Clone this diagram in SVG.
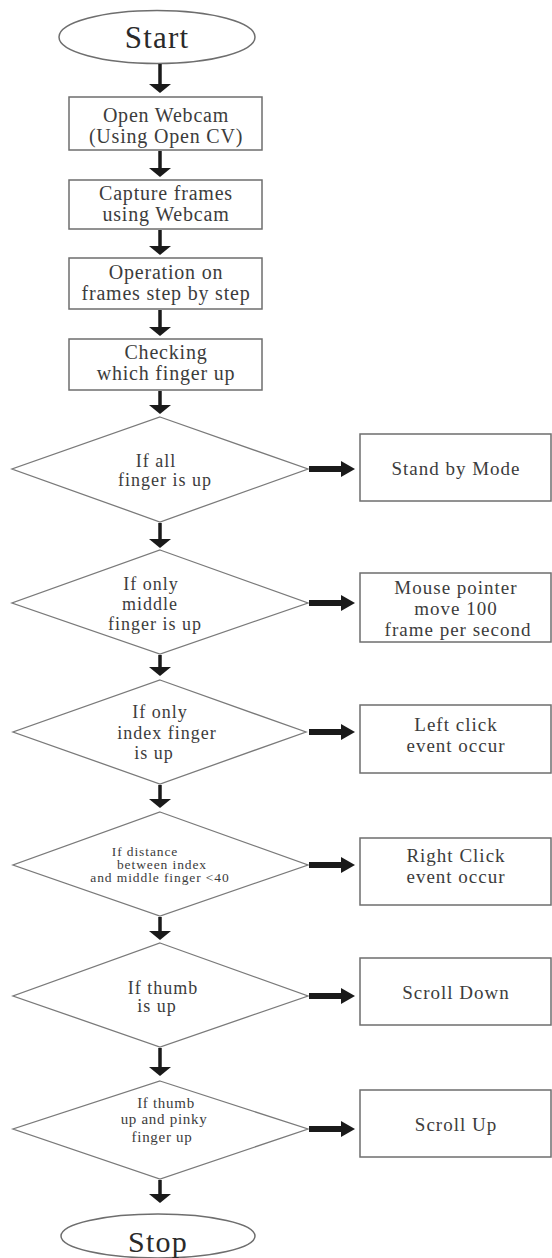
<svg xmlns="http://www.w3.org/2000/svg" width="552" height="1258" viewBox="0 0 552 1258">
<defs>
<style>
.shape{fill:#fff;stroke:#6e6e6e;stroke-width:1.5}
.dia{fill:#fff;stroke:#7a7a7a;stroke-width:1.3}
.t{font-family:"Liberation Serif","Times New Roman",serif;fill:#3c3c3c;text-anchor:middle}
.bx{font-size:20px;letter-spacing:0.8px}
.rb{font-size:19px;letter-spacing:1px}
.dt{font-size:18px;letter-spacing:1px}
.big{font-size:31px;letter-spacing:1.2px;fill:#2a2a2a}
.vs{stroke:#1a1a1a;stroke-width:3.5;fill:none}
.ah{fill:#1a1a1a}
</style>
</defs>
<g id="start"><ellipse class="shape" cx="157" cy="37" rx="98" ry="26.5"/><text class="t big" x="157" y="48">Start</text></g>
<g id="open-webcam"><rect class="shape" x="69" y="97" width="193" height="53"/><text class="t bx" x="166" y="122">Open Webcam</text><text class="t bx" x="166" y="143">(Using Open CV)</text></g>
<g id="capture"><rect class="shape" x="69" y="180" width="193" height="49"/><text class="t bx" x="166" y="200">Capture frames</text><text class="t bx" x="166" y="221">using Webcam</text></g>
<g id="operation"><rect class="shape" x="69" y="258" width="193" height="51"/><text class="t bx" x="166" y="279">Operation on</text><text class="t bx" x="166" y="300">frames step by step</text></g>
<g id="checking"><rect class="shape" x="69" y="339" width="193" height="51"/><text class="t bx" x="166" y="359">Checking</text><text class="t bx" x="166" y="380">which finger up</text></g>
<g id="d-all"><polygon class="dia" points="160,417 308,469 160,522 12,469"/><text class="t dt" x="156" y="467">If all</text><text class="t dt" x="165" y="486">finger is up</text></g>
<g id="standby"><rect class="shape" x="360" y="434" width="191" height="67"/><text class="t rb" x="456" y="475">Stand by Mode</text></g>
<g id="d-middle"><polygon class="dia" points="160,550 308,603 160,654 12,603"/><text class="t dt" x="151" y="590">If only</text><text class="t dt" x="150" y="610">middle</text><text class="t dt" x="155" y="630">finger is up</text></g>
<g id="mouse"><rect class="shape" x="360" y="573" width="191" height="69"/><text class="t rb" x="456" y="594">Mouse pointer</text><text class="t rb" x="456" y="615">move 100</text><text class="t rb" x="458" y="636">frame per second</text></g>
<g id="d-index"><polygon class="dia" points="160,680 306,732 160,784 13,732"/><text class="t dt" x="160" y="718">If only</text><text class="t dt" x="167" y="739">index finger</text><text class="t dt" x="154" y="759">is up</text></g>
<g id="leftclick"><rect class="shape" x="360" y="705" width="191" height="68"/><text class="t rb" x="456" y="731">Left click</text><text class="t rb" x="456" y="752">event occur</text></g>
<g id="d-distance"><polygon class="dia" points="160,812 308,865 160,916 13,865"/><text class="t" style="font-size:13.5px;letter-spacing:0.9px" x="145" y="856">If distance</text><text class="t" style="font-size:13.5px;letter-spacing:0.9px" x="162" y="869">between index</text><text class="t" style="font-size:13.5px;letter-spacing:0.9px" x="160" y="882">and middle finger &lt;40</text></g>
<g id="rightclick"><rect class="shape" x="360" y="838" width="191" height="67"/><text class="t rb" x="456" y="862">Right Click</text><text class="t rb" x="456" y="883">event occur</text></g>
<g id="d-thumb"><polygon class="dia" points="160,943 308,996 160,1047 13,996"/><text class="t dt" x="163" y="994">If thumb</text><text class="t dt" x="157" y="1012">is up</text></g>
<g id="scrolldown"><rect class="shape" x="360" y="958" width="191" height="67"/><text class="t rb" x="456" y="999">Scroll Down</text></g>
<g id="d-pinky"><polygon class="dia" points="160,1081 308,1129 160,1179 13,1129"/><text class="t" style="font-size:15px;letter-spacing:0.7px" x="166" y="1108">If thumb</text><text class="t" style="font-size:15px;letter-spacing:0.7px" x="164" y="1124">up and pinky</text><text class="t" style="font-size:15px;letter-spacing:0.7px" x="162" y="1142">finger up</text></g>
<g id="scrollup"><rect class="shape" x="360" y="1090" width="191" height="67"/><text class="t rb" x="456" y="1131">Scroll Up</text></g>
<g id="stop"><ellipse class="shape" cx="158" cy="1236" rx="97" ry="22"/><text class="t big" x="158" y="1252" style="font-size:30px">Stop</text></g>
<g id="connectors">
<path class="vs" d="M160 64V85"/><path class="ah" d="M149 84H171L160 93Z"/>
<path class="vs" d="M160 151V169"/><path class="ah" d="M149 168H171L160 177Z"/>
<path class="vs" d="M160 230V247"/><path class="ah" d="M149 246H171L160 255Z"/>
<path class="vs" d="M160 310V328"/><path class="ah" d="M149 327H171L160 336Z"/>
<path class="vs" d="M160 391V406"/><path class="ah" d="M149 405H171L160 414Z"/>
<path class="vs" d="M160 523V540"/><path class="ah" d="M149 539H171L160 548Z"/>
<path class="vs" d="M160 655V668"/><path class="ah" d="M149 667H171L160 676Z"/>
<path class="vs" d="M160 785V800"/><path class="ah" d="M149 799H171L160 808Z"/>
<path class="vs" d="M160 917V932"/><path class="ah" d="M149 931H171L160 940Z"/>
<path class="vs" d="M160 1048V1068"/><path class="ah" d="M149 1067H171L160 1076Z"/>
<path class="vs" d="M160 1180V1195"/><path class="ah" d="M149 1194H171L160 1203Z"/>
<path class="ah" d="M309 466H341V461L355 469L341 477V472H309Z"/>
<path class="ah" d="M309 600H341V595L355 603L341 611V606H309Z"/>
<path class="ah" d="M309 729H341V724L355 732L341 740V735H309Z"/>
<path class="ah" d="M309 862H341V857L355 865L341 873V868H309Z"/>
<path class="ah" d="M309 993H341V988L355 996L341 1004V999H309Z"/>
<path class="ah" d="M309 1126H341V1121L355 1129L341 1137V1132H309Z"/>
</g>
</svg>
